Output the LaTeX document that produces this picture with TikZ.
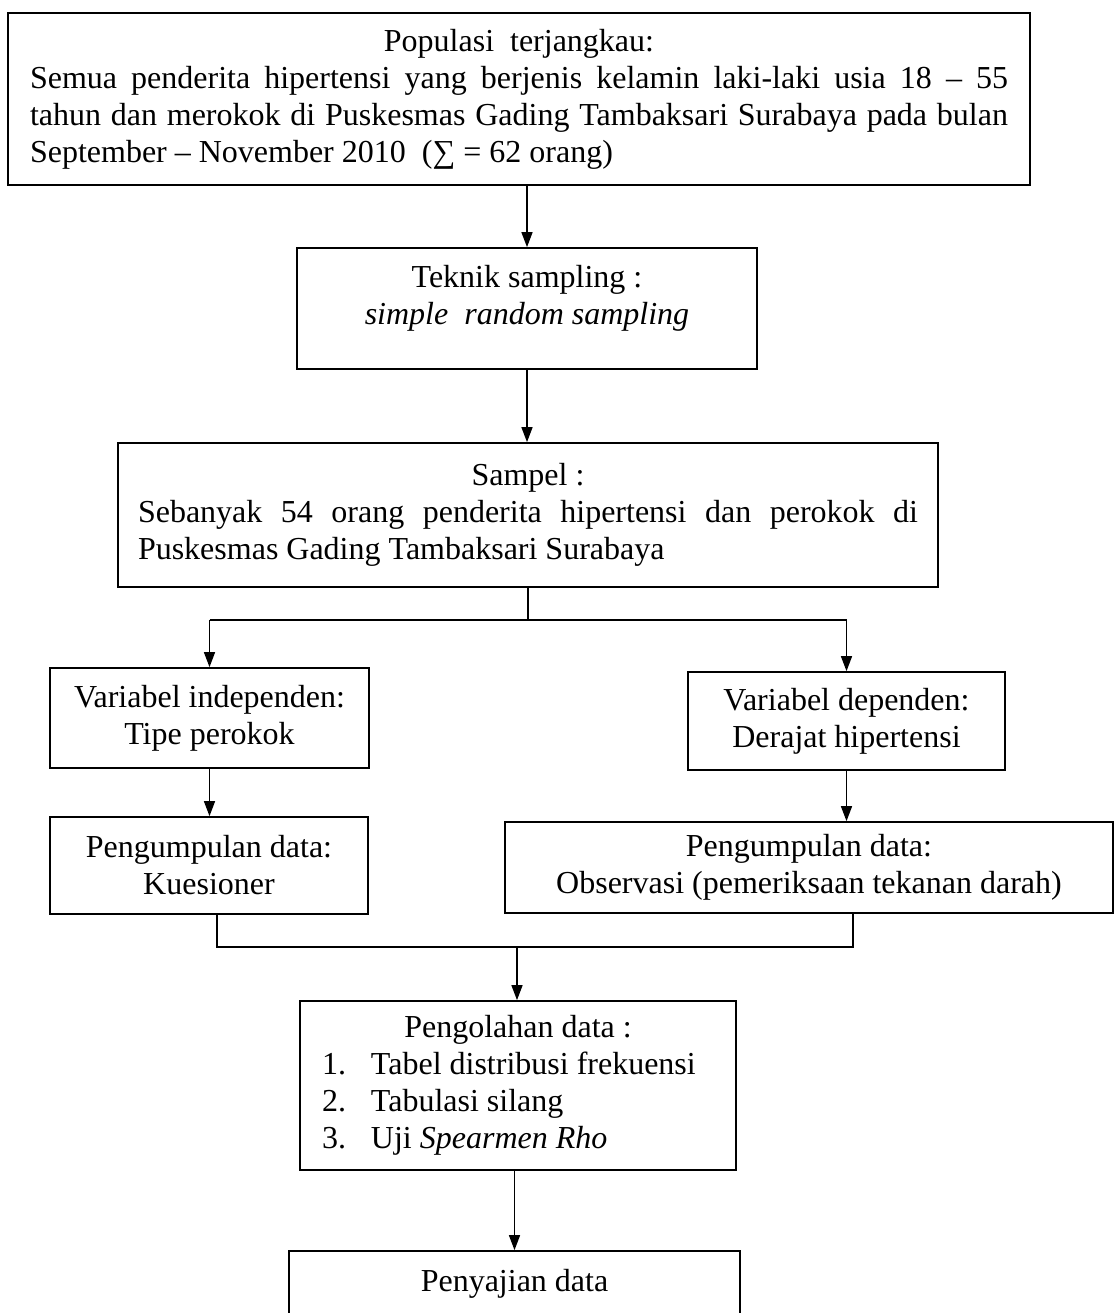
\documentclass[tikz,border=0pt]{standalone}
\usepackage{fontspec}
\setmainfont{Liberation Serif}
\usetikzlibrary{arrows.meta}
\begin{document}
\begin{tikzpicture}[x=1pt,y=-1pt,
  box/.style={draw, line width=1.7pt, inner sep=0pt, align=center,
    font=\fontsize{32}{37}\selectfont},
  conn/.style={line width=1.4pt},
  arr/.style={conn, -{Triangle[length=15pt,width=11pt]}}]
\useasboundingbox (0,0) rectangle (1115,1313);

\node[box, minimum width=1022pt, minimum height=172pt, align=left] (pop) at (519,99)
  {\makebox[978pt]{Populasi~~terjangkau:}\\
   \makebox[978pt][s]{Semua penderita hipertensi yang berjenis kelamin laki-laki usia 18 – 55}\\
   \makebox[978pt][s]{tahun dan merokok di Puskesmas Gading Tambaksari Surabaya pada bulan}\\
   September – November 2010~~(∑ = 62 orang)};

\node[box, minimum width=460pt, minimum height=121pt, text depth=28pt] (tek) at (527,308.5)
  {Teknik sampling :\\ \textit{simple~~random sampling}};

\node[box, minimum width=820pt, minimum height=144pt, align=left] (samp) at (528,515)
  {\makebox[780pt]{Sampel :}\\
   \makebox[780pt][s]{Sebanyak 54 orang penderita hipertensi dan perokok di}\\
   Puskesmas Gading Tambaksari Surabaya};

\node[box, minimum width=319pt, minimum height=100pt] (vi) at (209.5,718)
  {Variabel independen:\\ Tipe perokok};
\node[box, minimum width=317pt, minimum height=98pt] (vd) at (846.5,721)
  {Variabel dependen:\\ Derajat hipertensi};

\node[box, minimum width=318pt, minimum height=97pt] (dl) at (209,865.5)
  {Pengumpulan data:\\ Kuesioner};
\node[box, minimum width=608pt, minimum height=91pt] (dr) at (809,867.5)
  {Pengumpulan data:\\ Observasi (pemeriksaan tekanan darah)};

\node[box, minimum width=436pt, minimum height=169pt, align=left] (proc) at (518,1085.5)
  {\makebox[392pt]{Pengolahan data :}\\
   \makebox[49pt][l]{1.}Tabel distribusi frekuensi\\
   \makebox[49pt][l]{2.}Tabulasi silang\\
   \makebox[49pt][l]{3.}Uji \textit{Spearmen Rho}};

\node[box, minimum width=451pt, minimum height=66pt] (pen) at (514.5,1284)
  {Penyajian data};

% connectors
\draw[arr] (pop.south -| tek.north) -- (tek.north);
\draw[arr] (tek.south) -- (tek.south |- samp.north);
\coordinate (br) at (528,620);
\draw[conn] (samp.south) -- (br);
\draw[conn] (vi.north |- br) -- (vd.north |- br);
\draw[arr] (vi.north |- br) -- (vi.north);
\draw[arr] (vd.north |- br) -- (vd.north);
\draw[arr] (vi.south) -- (vi.south |- dl.north);
\draw[arr] (vd.south) -- (vd.south |- dr.north);
\coordinate (jl) at (217,947);
\coordinate (jr) at (853,947);
\coordinate (jm) at (517,947);
\draw[conn] (dl.south -| jl) -- (jl) -- (jr) -- (dr.south -| jr);
\draw[arr] (jm) -- (jm |- proc.north);
\draw[arr] (proc.south -| pen.north) -- (pen.north);
\end{tikzpicture}
\end{document}
